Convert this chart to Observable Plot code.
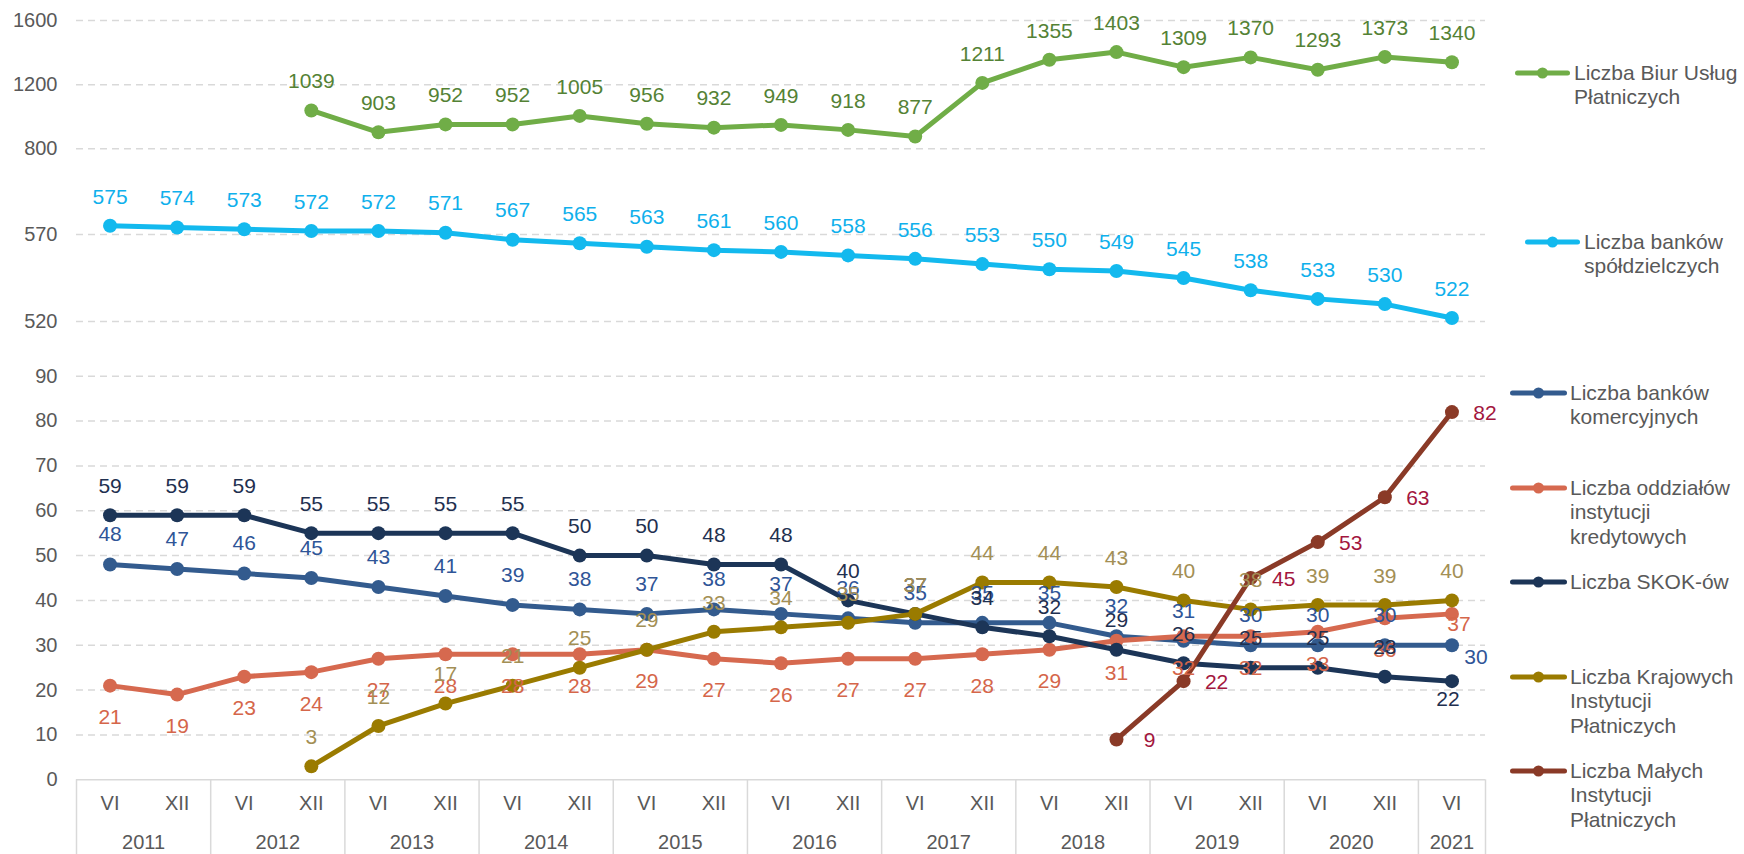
<!DOCTYPE html>
<html>
<head>
<meta charset="utf-8">
<script src="https://cdn.jsdelivr.net/npm/d3@7"></script>
<script src="https://cdn.jsdelivr.net/npm/@observablehq/plot@0.6"></script>
<style>
  body { margin: 0; background: #fff; font-family: "Liberation Sans", Arial, Helvetica, sans-serif; }
  #chart { position: relative; width: 1744px; height: 854px; overflow: hidden; background: #fff; }
  #chart > svg { position: absolute; left: 0; top: 0; overflow: visible; }
  .legtext { position: absolute; color: #595959; font-size: 21px; line-height: 24.5px; white-space: nowrap; }
  .legsw { position: absolute; overflow: visible; }
</style>
</head>
<body>
<div id="chart"></div>
<script>
// ---------------- DATA ----------------
const periodLabels = ["VI","XII","VI","XII","VI","XII","VI","XII","VI","XII","VI","XII","VI","XII","VI","XII","VI","XII","VI","XII","VI"];
const periodYears  = ["2011","2011","2012","2012","2013","2013","2014","2014","2015","2015","2016","2016","2017","2017","2018","2018","2019","2019","2020","2020","2021"];

const biurUslugPlatniczych = [null,null,null,1039,903,952,952,1005,956,932,949,918,877,1211,1355,1403,1309,1370,1293,1373,1340];
const bankiSpoldzielcze    = [575,574,573,572,572,571,567,565,563,561,560,558,556,553,550,549,545,538,533,530,522];
const bankiKomercyjne      = [48,47,46,45,43,41,39,38,37,38,37,36,35,35,35,32,31,30,30,30,30];
const oddzialyInstytucji   = [21,19,23,24,27,28,28,28,29,27,26,27,27,28,29,31,32,32,33,36,37];
const skoki                = [59,59,59,55,55,55,55,50,50,48,48,40,37,34,32,29,26,25,25,23,22];
const krajoweIP            = [null,null,null,3,12,17,21,25,29,33,34,35,37,44,44,43,40,38,39,39,40];
const maleIP               = [null,null,null,null,null,null,null,null,null,null,null,null,null,null,null,9,22,45,53,63,82];

const ticksTop    = [800,1200,1600];
const ticksMiddle = [520,570];
const ticksBottom = [0,10,20,30,40,50,60,70,80,90];

const legendLabels = {
  biur: ["Liczba Biur Usług", "Płatniczych"],
  spol: ["Liczba banków", "spółdzielczych"],
  kom:  ["Liczba banków", "komercyjnych"],
  odd:  ["Liczba oddziałów", "instytucji", "kredytowych"],
  skok: ["Liczba SKOK-ów"],
  kip:  ["Liczba Krajowych", "Instytucji", "Płatniczych"],
  mip:  ["Liczba Małych", "Instytucji", "Płatniczych"]
};

// ---------------- STYLE / LAYOUT ----------------
const W = 1744, H = 854;
const FONT = "'Liberation Sans', Arial, Helvetica, sans-serif";
const ML = 76, MR = 259;
const xDomain = [-0.5, periodLabels.length - 0.5];
const GRID = "#d9d9d9", TXT = "#595959";

const styles = {
  biur: {line: "#70AD47", label: "#548235", dx: 0, dy: -29},
  spol: {line: "#13B9EE", label: "#0FB0EC", dx: 0, dy: -29},
  kom:  {line: "#335B8E", label: "#2F5597", dx: 0, dy: -30, last: {dx: 24, dy: 12}},
  odd:  {line: "#D6694F", label: "#D5664A", dx: 0, dy: 32, last: {dx: 7, dy: 10}},
  skok: {line: "#1C3557", label: "#1F3050", dx: 0, dy: -29, last: {dx: -4, dy: 18}},
  kip:  {line: "#9A7B00", label: "#A38F55", dx: 0, dy: -29},
  mip:  {line: "#8A3A27", label: "#A3163E", dx: 33, dy: 1}
};

function rows(values) {
  return values.map((v, i) => ({i, v})).filter(d => d.v != null);
}

function labelMarks(values, st) {
  const data = rows(values);
  const lastI = data[data.length - 1].i;
  const common = {x: "i", y: "v", text: d => String(d.v), fill: st.label, fontSize: 21};
  if (!st.last) {
    return [Plot.text(data, {...common, dx: st.dx, dy: st.dy})];
  }
  return [
    Plot.text(data.filter(d => d.i !== lastI), {...common, dx: st.dx, dy: st.dy}),
    Plot.text(data.filter(d => d.i === lastI), {...common, dx: st.last.dx, dy: st.last.dy})
  ];
}

function lineMarks(values, st) {
  const data = rows(values);
  return [
    Plot.line(data, {x: "i", y: "v", stroke: st.line, strokeWidth: 5, strokeLinejoin: "round"}),
    Plot.dot(data, {x: "i", y: "v", r: 7, fill: st.line, stroke: "none"})
  ];
}

function panel({domain, yTop, yBottom, ticks, gridTicks, extra = [], series}) {
  const marks = [
    Plot.gridY(gridTicks, {stroke: GRID, strokeOpacity: 1, strokeWidth: 1.5, strokeDasharray: "7,5"}),
    ...extra,
    Plot.axisY(ticks, {tickSize: 0, tickPadding: 19, fontSize: 20, color: TXT, label: null, tickFormat: d => String(d)}),
    ...series.flatMap(([vals, st]) => lineMarks(vals, st)),
    ...series.flatMap(([vals, st]) => labelMarks(vals, st))
  ];
  return Plot.plot({
    width: W, height: H,
    marginLeft: ML, marginRight: MR,
    marginTop: yTop, marginBottom: H - yBottom,
    x: {type: "linear", domain: xDomain, axis: null},
    y: {type: "linear", domain, label: null},
    style: {fontFamily: FONT, fontSize: "20px", background: "transparent", overflow: "visible"},
    marks
  });
}

const chart = document.getElementById("chart");

chart.append(panel({
  domain: [800, 1600], yTop: 20, yBottom: 148.3,
  ticks: ticksTop, gridTicks: ticksTop,
  series: [[biurUslugPlatniczych, styles.biur]]
}));

chart.append(panel({
  domain: [520, 570], yTop: 234, yBottom: 321,
  ticks: ticksMiddle, gridTicks: ticksMiddle,
  series: [[bankiSpoldzielcze, styles.spol]]
}));

chart.append(panel({
  domain: [0, 90], yTop: 375.7, yBottom: 779.3,
  ticks: ticksBottom, gridTicks: ticksBottom.filter(t => t !== 0),
  extra: [Plot.ruleY([0], {stroke: GRID, strokeWidth: 1.5})],
  series: [
    [bankiKomercyjne, styles.kom],
    [oddzialyInstytucji, styles.odd],
    [skoki, styles.skok],
    [krajoweIP, styles.kip],
    [maleIP, styles.mip]
  ]
}));

// ---- category axis (period + year boxes) ----
const yearGroups = d3.groups(periodLabels.map((p, i) => ({i, p, y: periodYears[i]})), d => d.y)
  .map(([y, items]) => ({y, c: d3.mean(items, d => d.i), lo: d3.min(items, d => d.i) - 0.5, hi: d3.max(items, d => d.i) + 0.5}));
const boundaries = Array.from(new Set(yearGroups.flatMap(g => [g.lo, g.hi])));

chart.append(Plot.plot({
  width: W, height: H,
  marginLeft: ML, marginRight: MR, marginTop: 779.3, marginBottom: 0,
  x: {type: "linear", domain: xDomain, axis: null},
  style: {fontFamily: FONT, fontSize: "20px", background: "transparent", overflow: "visible"},
  marks: [
    Plot.ruleX(boundaries, {stroke: GRID, strokeWidth: 1.5}),
    Plot.text(periodLabels.map((p, i) => ({i, p})), {x: "i", text: "p", frameAnchor: "top", lineAnchor: "middle", dy: 24, fontSize: 20, fill: TXT}),
    Plot.text(yearGroups, {x: "c", text: "y", frameAnchor: "top", lineAnchor: "middle", dy: 62.5, fontSize: 20, fill: TXT})
  ]
}));

// ---- legend ----
const legendLayout = [
  {key: "biur", y: 73,  x1: 1515, x2: 1570, tx: 1574},
  {key: "spol", y: 242, x1: 1525, x2: 1580, tx: 1584},
  {key: "kom",  y: 393, x1: 1510, x2: 1567, tx: 1570},
  {key: "odd",  y: 488, x1: 1510, x2: 1567, tx: 1570},
  {key: "skok", y: 582, x1: 1510, x2: 1567, tx: 1570},
  {key: "kip",  y: 677, x1: 1510, x2: 1567, tx: 1570},
  {key: "mip",  y: 771, x1: 1510, x2: 1567, tx: 1570}
];
for (const it of legendLayout) {
  const col = styles[it.key].line;
  const w = it.x2 - it.x1;
  const ns = "http://www.w3.org/2000/svg";
  const sw = document.createElementNS(ns, "svg");
  sw.setAttribute("class", "legsw");
  sw.setAttribute("width", w);
  sw.setAttribute("height", 14);
  sw.style.left = it.x1 + "px";
  sw.style.top = (it.y - 7) + "px";
  sw.innerHTML = `<line x1="2.5" x2="${w - 2.5}" y1="7" y2="7" stroke="${col}" stroke-width="5" stroke-linecap="round"/><circle cx="${w / 2}" cy="7" r="5.5" fill="${col}"/>`;
  chart.append(sw);
  const tx = document.createElement("div");
  tx.className = "legtext";
  tx.style.left = it.tx + "px";
  tx.style.top = (it.y - 12.25) + "px";
  tx.innerHTML = legendLabels[it.key].join("<br>");
  chart.append(tx);
}
</script>
</body>
</html>
